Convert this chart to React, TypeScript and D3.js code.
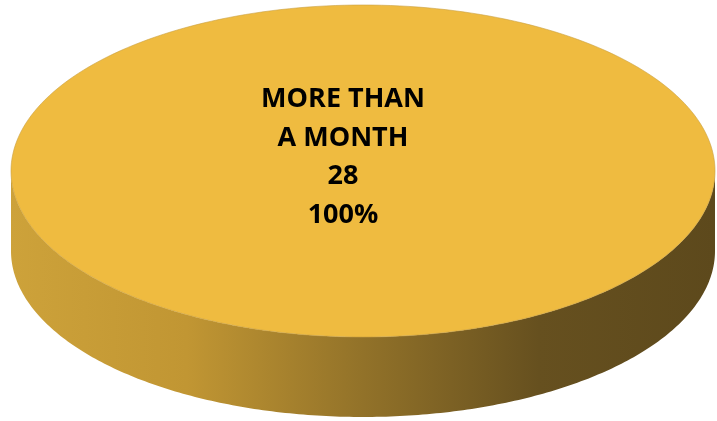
import React from "react";
import * as d3 from "d3";

const categories = ["MORE THAN A MONTH"];
const labelLines = [["MORE THAN", "A MONTH"]];
const values = [28];

const W = 717;
const H = 421;

export default function App() {
  const cx = 363;
  const cy = 171;
  const rx = 352;
  const ry = 166;
  const depth = 80;

  const total = d3.sum(values);
  const pie = d3.pie<number>().sort(null).startAngle(0).endAngle(2 * Math.PI);
  const arcs = pie(values);

  const pt = (a: number, dy = 0): [number, number] => [
    cx + rx * Math.sin(a),
    cy - ry * Math.cos(a) + dy,
  ];

  const slices = arcs.map((a, i) => {
    const n = 240;
    const topPts = d3.range(n + 1).map((k) => pt(a.startAngle + ((a.endAngle - a.startAngle) * k) / n));
    const top = d3.line()(topPts) + "Z";
    const s0 = Math.max(a.startAngle, Math.PI / 2);
    const s1 = Math.min(a.endAngle, (3 * Math.PI) / 2);
    let side = "";
    if (s1 > s0) {
      const up = d3.range(n + 1).map((k) => pt(s0 + ((s1 - s0) * k) / n));
      const down = d3.range(n + 1).map((k) => pt(s1 - ((s1 - s0) * k) / n, depth));
      side = d3.line()([...up, ...down]) + "Z";
    }
    const pct = d3.format(".0%")(values[i] / total);
    return { top, side, pct, i };
  });

  const lineH = 38.5;
  const textX = 343;
  const firstBase = 107;

  return (
    <div style={{ position: "fixed", left: 0, top: 0 }}>
      <svg width={W} height={H} style={{ display: "block" }}>
        <defs>
          <linearGradient id="sideGrad" x1={cx - rx} x2={cx + rx} y1={0} y2={0} gradientUnits="userSpaceOnUse">
            <stop offset="0" stopColor="#cda23a" />
            <stop offset="0.25" stopColor="#c19633" />
            <stop offset="0.5" stopColor="#927229" />
            <stop offset="0.75" stopColor="#66501f" />
            <stop offset="1" stopColor="#5d491c" />
          </linearGradient>
        </defs>
        {slices.map((s) => (
          <g key={s.i}>
            {s.side && <path d={s.side} fill="url(#sideGrad)" />}
            <path d={s.top} fill="#efbb40" stroke="#c9a040" strokeWidth={0.6} />
          </g>
        ))}
        {slices.map((s) => {
          const lines = [...labelLines[s.i], String(values[s.i]), s.pct];
          return (
            <text
              key={"t" + s.i}
              x={textX}
              textAnchor="middle"
              fontFamily="'Open Sans', 'Noto Sans', sans-serif"
              fontWeight={700}
              fontSize={27}
              fill="#000"
              aria-label={categories[s.i]}
            >
              {lines.map((l, k) => (
                <tspan key={k} x={textX} y={firstBase + k * lineH}>
                  {l}
                </tspan>
              ))}
            </text>
          );
        })}
      </svg>
    </div>
  );
}
